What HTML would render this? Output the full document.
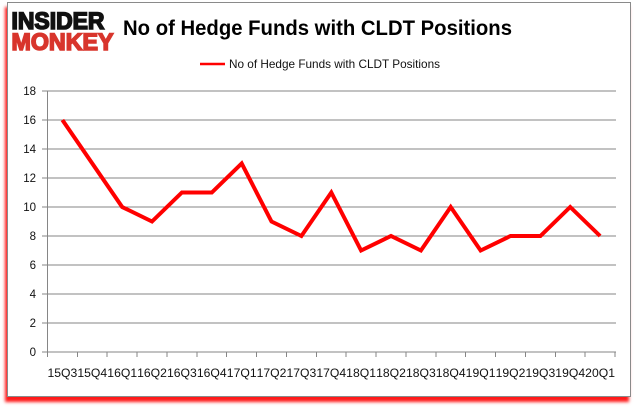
<!DOCTYPE html>
<html><head><meta charset="utf-8"><style>
html,body{margin:0;padding:0;background:#fff;width:637px;height:408px;overflow:hidden}
.frame{position:absolute;left:7px;top:2px;width:622px;height:393px;border:1px solid #8a8a8a;background:#fff;box-shadow:-2px 5px 3px #ff1a1a}
svg{position:absolute;left:0;top:0}
</style></head><body>
<div class="frame"></div>
<svg width="637" height="408" viewBox="0 0 637 408" xmlns="http://www.w3.org/2000/svg">
<g font-family="Liberation Sans, sans-serif">
<text x="11.5" y="29" font-size="24" font-weight="bold" fill="#111" stroke="#111" stroke-width="1.6" textLength="93" lengthAdjust="spacingAndGlyphs">INSIDER</text>
<text x="11.5" y="50" font-size="24" font-weight="bold" fill="#d8352c" stroke="#d8352c" stroke-width="1.6" textLength="102" lengthAdjust="spacingAndGlyphs">MONKEY</text>
<text x="123" y="35" font-size="21" font-weight="bold" fill="#000" textLength="389" lengthAdjust="spacingAndGlyphs">No of Hedge Funds with CLDT Positions</text>
<line x1="200" y1="64" x2="225" y2="64" stroke="#ff0000" stroke-width="2.5"/>
<text x="229" y="68" font-size="12" fill="#111" textLength="211" lengthAdjust="spacingAndGlyphs">No of Hedge Funds with CLDT Positions</text>
</g>
<g stroke="#868686" stroke-width="1" shape-rendering="crispEdges">
<line x1="42" y1="91" x2="616" y2="91"/>
<line x1="42" y1="120" x2="616" y2="120"/>
<line x1="42" y1="149" x2="616" y2="149"/>
<line x1="42" y1="178" x2="616" y2="178"/>
<line x1="42" y1="207" x2="616" y2="207"/>
<line x1="42" y1="236" x2="616" y2="236"/>
<line x1="42" y1="265" x2="616" y2="265"/>
<line x1="42" y1="294" x2="616" y2="294"/>
<line x1="42" y1="323" x2="616" y2="323"/>
<line x1="42" y1="352" x2="616" y2="352"/>
<line x1="47.5" y1="91" x2="47.5" y2="357"/>
<line x1="77.4" y1="352" x2="77.4" y2="357"/>
<line x1="107.2" y1="352" x2="107.2" y2="357"/>
<line x1="137.1" y1="352" x2="137.1" y2="357"/>
<line x1="167" y1="352" x2="167" y2="357"/>
<line x1="196.9" y1="352" x2="196.9" y2="357"/>
<line x1="226.7" y1="352" x2="226.7" y2="357"/>
<line x1="256.6" y1="352" x2="256.6" y2="357"/>
<line x1="286.5" y1="352" x2="286.5" y2="357"/>
<line x1="316.3" y1="352" x2="316.3" y2="357"/>
<line x1="346.2" y1="352" x2="346.2" y2="357"/>
<line x1="376.1" y1="352" x2="376.1" y2="357"/>
<line x1="405.9" y1="352" x2="405.9" y2="357"/>
<line x1="435.8" y1="352" x2="435.8" y2="357"/>
<line x1="465.7" y1="352" x2="465.7" y2="357"/>
<line x1="495.5" y1="352" x2="495.5" y2="357"/>
<line x1="525.4" y1="352" x2="525.4" y2="357"/>
<line x1="555.3" y1="352" x2="555.3" y2="357"/>
<line x1="585.1" y1="352" x2="585.1" y2="357"/>
<line x1="615" y1="352" x2="615" y2="357"/>
</g>
<g font-family="Liberation Sans, sans-serif" font-size="11.5" fill="#111" text-anchor="end">
<text x="36" y="95">18</text>
<text x="36" y="124">16</text>
<text x="36" y="153">14</text>
<text x="36" y="182">12</text>
<text x="36" y="211">10</text>
<text x="36" y="240">8</text>
<text x="36" y="269">6</text>
<text x="36" y="298">4</text>
<text x="36" y="327">2</text>
<text x="36" y="356">0</text>
</g>
<g font-family="Liberation Sans, sans-serif" font-size="11.5" fill="#111" text-anchor="middle">
<text x="62.4" y="377" textLength="29.8" lengthAdjust="spacingAndGlyphs">15Q3</text>
<text x="92.3" y="377" textLength="29.8" lengthAdjust="spacingAndGlyphs">15Q4</text>
<text x="122.2" y="377" textLength="29.8" lengthAdjust="spacingAndGlyphs">16Q1</text>
<text x="152" y="377" textLength="29.8" lengthAdjust="spacingAndGlyphs">16Q2</text>
<text x="181.9" y="377" textLength="29.8" lengthAdjust="spacingAndGlyphs">16Q3</text>
<text x="211.8" y="377" textLength="29.8" lengthAdjust="spacingAndGlyphs">16Q4</text>
<text x="241.7" y="377" textLength="29.8" lengthAdjust="spacingAndGlyphs">17Q1</text>
<text x="271.5" y="377" textLength="29.8" lengthAdjust="spacingAndGlyphs">17Q2</text>
<text x="301.4" y="377" textLength="29.8" lengthAdjust="spacingAndGlyphs">17Q3</text>
<text x="331.3" y="377" textLength="29.8" lengthAdjust="spacingAndGlyphs">17Q4</text>
<text x="361.1" y="377" textLength="29.8" lengthAdjust="spacingAndGlyphs">18Q1</text>
<text x="391" y="377" textLength="29.8" lengthAdjust="spacingAndGlyphs">18Q2</text>
<text x="420.9" y="377" textLength="29.8" lengthAdjust="spacingAndGlyphs">18Q3</text>
<text x="450.7" y="377" textLength="29.8" lengthAdjust="spacingAndGlyphs">18Q4</text>
<text x="480.6" y="377" textLength="29.8" lengthAdjust="spacingAndGlyphs">19Q1</text>
<text x="510.5" y="377" textLength="29.8" lengthAdjust="spacingAndGlyphs">19Q2</text>
<text x="540.4" y="377" textLength="29.8" lengthAdjust="spacingAndGlyphs">19Q3</text>
<text x="570.2" y="377" textLength="29.8" lengthAdjust="spacingAndGlyphs">19Q4</text>
<text x="600.1" y="377" textLength="29.8" lengthAdjust="spacingAndGlyphs">20Q1</text>
</g>
<polyline fill="none" stroke="#ff0000" stroke-width="4" stroke-linejoin="miter" points="62.4,120 92.3,163.5 122.2,207 152,221.5 181.9,192.5 211.8,192.5 241.7,163.5 271.5,221.5 301.4,236 331.3,192.5 361.1,250.5 391,236 420.9,250.5 450.7,207 480.6,250.5 510.5,236 540.4,236 570.2,207 600.1,236"/>
</svg>
</body></html>
